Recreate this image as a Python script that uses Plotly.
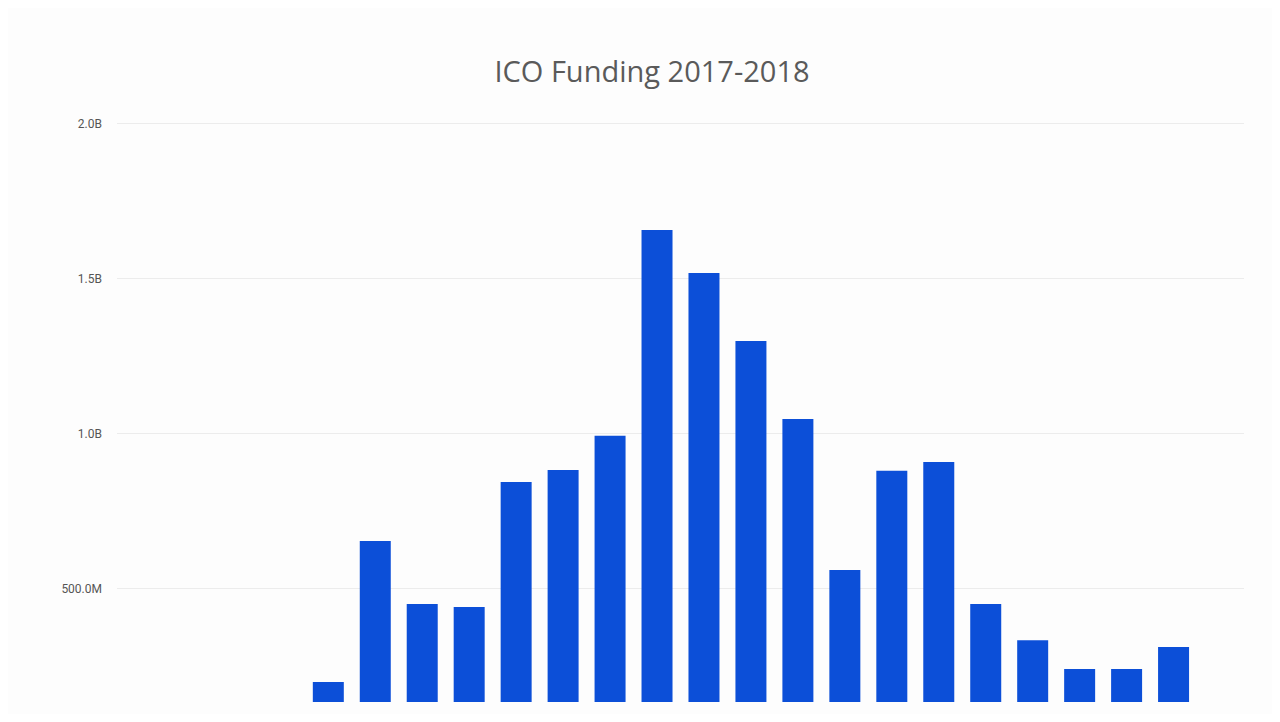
import plotly.graph_objects as go

months = ["Jan 2017", "Feb 2017", "Mar 2017", "Apr 2017", "May 2017", "Jun 2017",
          "Jul 2017", "Aug 2017", "Sep 2017", "Oct 2017", "Nov 2017", "Dec 2017",
          "Jan 2018", "Feb 2018", "Mar 2018", "Apr 2018", "May 2018", "Jun 2018",
          "Jul 2018", "Aug 2018", "Sep 2018", "Oct 2018", "Nov 2018", "Dec 2018"]
funding = [50e6, 40e6, 60e6, 110e6, 200e6, 655e6,
           452e6, 442e6, 845e6, 884e6, 994e6, 1658e6,
           1519e6, 1300e6, 1048e6, 561e6, 881e6, 910e6,
           452e6, 335e6, 242e6, 242e6, 313e6, 100e6]

tick_vals = [500e6, 1.0e9, 1.5e9, 2.0e9]
tick_text = ["500.0M", "1.0B", "1.5B", "2.0B"]

fig = go.Figure(go.Bar(
    x=months, y=funding,
    marker=dict(color="#0c4fd8", line=dict(width=0)),
))

fig.update_layout(
    width=1264, height=706,
    margin=dict(l=109, r=28, t=102, b=12),
    paper_bgcolor="#fdfdfd", plot_bgcolor="#fdfdfd",
    bargap=0.34,
    showlegend=False,
    title=dict(text="ICO Funding 2017-2018", x=644/1264, xref="container", xanchor="center",
               y=1 - 64/706, yref="container", yanchor="middle",
               font=dict(family="Open Sans", size=29, color="#5a5a5a")),
    font=dict(family="Roboto"),
)
fig.update_xaxes(showticklabels=False, showgrid=False, zeroline=False, showline=False, ticks="")
fig.update_yaxes(range=[135.5e6, 2045e6], tickvals=tick_vals, ticktext=tick_text,
                 showgrid=True, gridcolor="#ececec", gridwidth=1, zeroline=False,
                 tickfont=dict(family="Roboto", size=12, color="#555555"), ticklabelstandoff=14)

fig.write_html("out.html")
